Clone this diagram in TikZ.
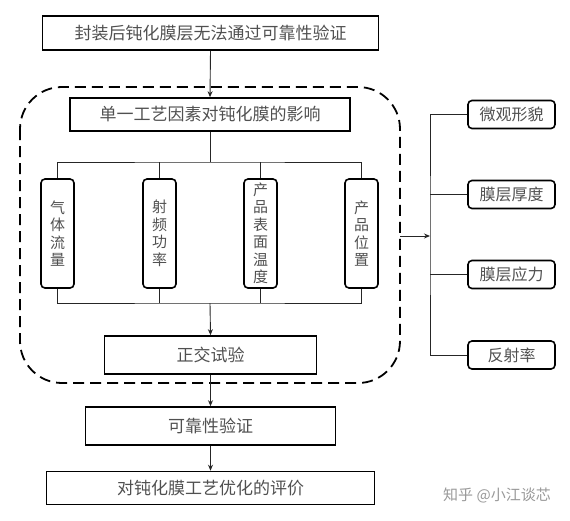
\documentclass[tikz,border=0pt]{standalone}
\usepackage{fontspec}
\setmainfont{Noto Sans CJK SC}
\usetikzlibrary{arrows.meta}
\definecolor{txt}{HTML}{505050}
\begin{document}
\begin{tikzpicture}[x=1pt,y=-1pt,
  mainbox/.style={draw=black,line width=1.6pt,rectangle,minimum height=34pt,inner sep=0pt,text=txt,font=\fontsize{17}{18}\selectfont},
  vbox/.style={draw=black,line width=1.6pt,rectangle,rounded corners=4pt,minimum width=33pt,minimum height=109pt,inner sep=0pt,text=txt,align=center,font=\fontsize{15}{17.5}\selectfont},
  rbox/.style={draw=black,line width=1.6pt,rectangle,rounded corners=4pt,minimum width=87pt,minimum height=28pt,inner sep=0pt,text=txt,font=\fontsize{16}{17}\selectfont},
  conn/.style={line width=0.9pt,draw=black!85},
  arr/.style={conn,-{Stealth[length=6pt,width=5pt]}}]
\useasboundingbox (0,0) rectangle (570,520);
% dashed group
\draw[line width=1.8pt,dash pattern=on 11pt off 6pt,rounded corners=42pt] (20,87) rectangle (400,383);
% main column
\node[mainbox,minimum width=336pt] (top) at (210.5,33) {封装后钝化膜层无法通过可靠性验证};
\node[mainbox,minimum width=280pt,minimum height=33pt] (b2) at (210,114.5) {单一工艺因素对钝化膜的影响};
\node[vbox] (v1) at (57.5,233.5) {气\\体\\流\\量};
\node[vbox] (v2) at (159.5,233.5) {射\\频\\功\\率};
\node[vbox] (v3) at (260.5,233.5) {产\\品\\表\\面\\温\\度};
\node[vbox] (v4) at (361.5,233.5) {产\\品\\位\\置};
\node[mainbox,minimum width=212pt,minimum height=38pt] (ortho) at (210.5,355) {正交试验};
\node[mainbox,minimum width=250pt,minimum height=38pt] (reli) at (210.5,426) {可靠性验证};
\node[mainbox,minimum width=328pt,minimum height=33pt] (eval) at (210.5,488) {对钝化膜工艺优化的评价};
% right column
\node[rbox] (r1) at (511.5,114.5) {微观形貌};
\node[rbox] (r2) at (511.5,194.5) {膜层厚度};
\node[rbox] (r3) at (511.5,274.5) {膜层应力};
\node[rbox] (r4) at (511.5,355) {反射率};
% watermark
\node[text=black!40,font=\fontsize{15}{17}\selectfont,inner sep=0pt] (wm) at (497,495) {知乎 @小江谈芯};
% coordinates
\coordinate (bt) at (210,162);
\coordinate (bb) at (210,303);
\coordinate (gr) at (400,236);
\coordinate (rv) at (430,236);
% connectors
\draw[arr] (top.south) -- (b2.north);
\draw[conn] (b2.south) -- (bt);
\draw[conn] (v1.north) |- (bt) -| (v4.north);
\draw[conn] (v2.north) -- (v2.north |- bt);
\draw[conn] (v3.north) -- (v3.north |- bt);
\draw[conn] (v1.south) |- (bb) -| (v4.south);
\draw[conn] (v2.south) -- (v2.south |- bb);
\draw[conn] (v3.south) -- (v3.south |- bb);
\draw[arr] (bb) -- (ortho.north);
\draw[arr] (ortho.south) -- (reli.north);
\draw[arr] (reli.south) -- (eval.north);
\draw[arr] (gr) -- (rv);
\draw[conn] (r1.west) -| (rv) |- (r4.west);
\draw[conn] (r2.west) -- (r2.west -| rv);
\draw[conn] (r3.west) -- (r3.west -| rv);
\end{tikzpicture}
\end{document}
